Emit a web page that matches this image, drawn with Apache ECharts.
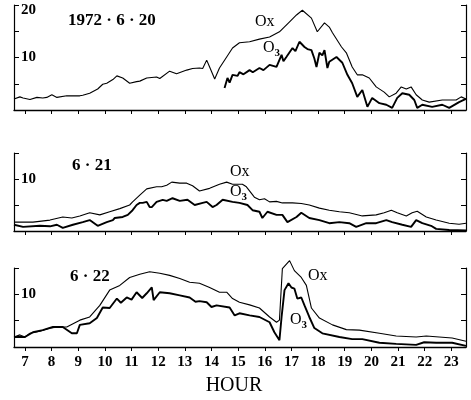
<!DOCTYPE html>
<html>
<head>
<meta charset="utf-8">
<script src="https://cdn.jsdelivr.net/npm/echarts@6/dist/echarts.min.js"></script>
<style>html,body{margin:0;padding:0;background:#fff}#c{width:471px;height:400px}</style>
</head>
<body>
<div id="c"></div>
<script>
// ---- data (hour, concentration) ----
const HOUR_TICKS = [7,8,9,10,11,12,13,14,15,16,17,18,19,20,21,22,23];
const Y_LABELS = [10, 20];
const PANEL_TITLES = ['1972 · 6 · 20', '6 · 21', '6 · 22'];

const ox1 = [[6.59,2.1],[6.81,2.5],[6.93,2.3],[7.19,2.0],[7.45,2.4],[7.67,2.3],[7.82,2.4],[8.01,2.9],[8.20,2.4],[8.57,2.7],[9.06,2.7],[9.17,2.8],[9.43,3.2],[9.73,4.0],[9.92,4.9],[10.07,5.1],[10.30,5.8],[10.45,6.5],[10.67,6.1],[10.93,5.1],[11.19,5.4],[11.31,5.5],[11.57,6.1],[11.94,6.3],[12.06,6.0],[12.43,7.4],[12.69,6.9],[13.07,7.6],[13.29,7.9],[13.55,8.0],[13.67,7.9],[13.82,9.5],[13.93,8.2],[14.12,5.9],[14.30,8.0],[14.57,10.1],[14.79,11.8],[15.05,12.8],[15.43,13.0],[15.80,13.5],[16.18,13.9],[16.55,14.9],[16.93,16.8],[17.19,18.1],[17.41,19.0],[17.75,17.5],[17.97,14.9],[18.24,16.6],[18.42,15.8],[18.54,14.7],[18.88,12.0],[19.06,10.9],[19.28,8.2],[19.47,6.7],[19.66,6.7],[19.92,6.1],[20.18,4.4],[20.48,3.4],[20.67,2.5],[20.93,3.2],[21.12,4.4],[21.31,4.0],[21.49,4.4],[21.68,2.9],[21.91,1.9],[22.17,1.5],[22.66,1.9],[23.18,1.9],[23.37,2.5],[23.55,2.1]];
const o31 = [[14.49,4.2],[14.60,6.1],[14.68,5.2],[14.79,6.7],[14.98,6.5],[15.05,7.2],[15.20,6.8],[15.43,7.6],[15.55,7.2],[15.80,8.0],[15.95,7.6],[16.18,8.6],[16.44,8.2],[16.63,10.5],[16.70,9.3],[16.81,10.1],[17.04,11.8],[17.15,11.2],[17.30,13.0],[17.49,12.0],[17.60,11.6],[17.75,11.4],[17.86,9.8],[17.94,8.2],[18.05,10.9],[18.16,10.4],[18.24,11.4],[18.35,8.0],[18.42,9.2],[18.69,10.1],[18.91,9.0],[19.10,6.7],[19.28,5.1],[19.47,2.5],[19.66,3.8],[19.85,0.6],[20.03,2.3],[20.30,1.3],[20.56,1.0],[20.78,0.4],[20.97,2.3],[21.16,3.2],[21.42,2.9],[21.61,1.9],[21.72,0.4],[21.91,1.0],[22.28,0.6],[22.66,1.0],[22.92,0.4],[23.29,1.5],[23.55,2.1]];

const ox2 = [[6.59,1.7],[6.93,1.7],[7.30,1.7],[7.94,2.1],[8.42,2.7],[8.76,2.5],[9.06,2.9],[9.43,3.5],[9.81,3.1],[10.18,3.7],[10.56,4.3],[10.93,5.0],[11.04,5.6],[11.31,6.9],[11.57,8.1],[11.94,8.5],[12.13,8.5],[12.32,8.8],[12.51,9.4],[12.81,9.2],[13.07,9.2],[13.29,8.7],[13.55,7.7],[13.93,8.2],[14.30,9.0],[14.57,9.4],[14.79,9.0],[15.16,9.0],[15.31,8.5],[15.61,6.5],[15.80,6.0],[15.99,6.2],[16.18,5.6],[16.44,5.7],[16.66,5.4],[17.04,5.4],[17.37,5.3],[17.67,5.0],[18.05,4.4],[18.42,4.0],[18.80,3.7],[19.17,3.5],[19.66,2.9],[20.18,3.1],[20.48,3.5],[20.75,4.0],[20.97,3.5],[21.31,2.9],[21.53,3.5],[21.72,3.8],[22.06,2.7],[22.43,2.1],[22.92,1.5],[23.29,1.3],[23.55,1.5]];
const o32 = [[6.59,1.2],[6.93,0.8],[7.56,1.0],[7.94,0.9],[8.20,1.2],[8.42,0.6],[8.80,1.2],[9.17,1.7],[9.43,2.1],[9.73,1.0],[10.07,1.7],[10.30,2.1],[10.37,2.5],[10.67,2.7],[10.86,3.1],[11.04,4.0],[11.19,5.0],[11.31,5.4],[11.42,5.4],[11.57,5.6],[11.68,4.6],[11.76,4.6],[11.94,5.6],[12.17,6.0],[12.32,5.8],[12.54,6.3],[12.81,5.8],[13.10,6.0],[13.37,5.0],[13.67,5.4],[13.82,5.6],[14.04,4.6],[14.19,5.0],[14.42,6.0],[14.79,5.6],[15.05,5.4],[15.35,5.0],[15.54,4.0],[15.80,3.7],[15.91,2.5],[16.10,3.7],[16.44,3.1],[16.66,3.1],[16.85,1.7],[17.19,2.7],[17.37,3.5],[17.67,2.5],[18.05,2.1],[18.42,1.5],[18.80,1.7],[19.17,1.5],[19.43,0.8],[19.81,1.5],[20.18,1.5],[20.56,2.1],[20.78,1.7],[21.16,1.2],[21.49,0.8],[21.68,2.1],[21.91,1.5],[22.24,1.0],[22.43,0.4],[22.92,0.2],[23.55,0.1]];

const ox3 = [[6.59,1.9],[6.81,2.3],[7.00,1.9],[7.19,2.6],[7.56,3.0],[7.94,3.6],[8.31,3.8],[8.57,3.8],[9.06,5.1],[9.43,5.7],[9.81,7.9],[10.18,10.8],[10.56,11.7],[10.93,13.2],[11.31,13.8],[11.68,14.3],[12.06,14.0],[12.43,13.6],[12.81,13.0],[13.18,12.3],[13.55,12.1],[13.93,11.3],[14.30,10.4],[14.57,10.4],[14.79,9.2],[15.05,8.5],[15.43,8.0],[15.80,7.4],[16.18,5.7],[16.44,4.7],[16.55,5.1],[16.66,14.9],[16.93,16.4],[17.11,14.5],[17.37,13.2],[17.56,11.7],[17.75,7.4],[18.05,5.5],[18.54,4.2],[19.06,3.3],[19.55,3.2],[20.30,2.6],[20.93,2.1],[21.68,1.9],[22.06,2.1],[22.54,1.9],[23.03,1.7],[23.55,1.1]];
const o33 = [[6.59,1.9],[7.00,1.9],[7.30,2.8],[7.67,3.2],[8.05,3.8],[8.42,3.8],[8.76,2.6],[8.95,2.6],[9.06,4.2],[9.43,4.5],[9.70,5.5],[9.92,7.5],[10.18,7.4],[10.45,9.2],[10.60,8.4],[10.82,9.4],[11.00,9.0],[11.19,10.4],[11.40,9.3],[11.57,10.2],[11.76,11.3],[11.83,8.9],[12.06,10.4],[12.43,10.2],[12.81,9.8],[13.18,9.4],[13.40,8.6],[13.55,8.7],[13.82,8.5],[14.00,7.6],[14.19,7.9],[14.68,7.5],[14.87,6.0],[15.05,6.4],[15.43,6.0],[15.80,5.7],[16.18,4.7],[16.36,2.8],[16.55,1.3],[16.63,5.7],[16.74,10.8],[16.89,12.1],[17.00,11.3],[17.11,11.1],[17.22,9.2],[17.37,9.4],[17.49,7.9],[17.67,5.7],[17.86,3.6],[18.16,2.6],[18.80,1.9],[19.28,1.5],[19.66,1.5],[20.30,0.8],[20.93,0.6],[21.68,0.4],[21.98,0.9],[22.43,0.8],[23.03,0.8],[23.55,0.2]];

const X_MIN = 6.59, X_MAX = 23.55;
const Y_MAX = [20, 15, 15];

// ---- chart ----
const FONT = 'Liberation Serif';
const chart = echarts.init(document.getElementById('c'), null, {renderer: 'canvas'});
const grids = [
  {left: 14, right: 5, top: 5, height: 105},
  {left: 14, right: 5, top: 153, height: 78},
  {left: 14, right: 5, top: 268, height: 79}
];
const xAxes = grids.map((g, i) => ({
  type: 'value', gridIndex: i, min: X_MIN, max: X_MAX,
  axisLine: {show: true, onZero: false, lineStyle: {color: '#000', width: 1.3}},
  axisTick: {show: true, inside: false, length: 4, customValues: HOUR_TICKS, lineStyle: {color: '#000', width: 1}},
  axisLabel: i === 2 ? {show: true, customValues: HOUR_TICKS, color: '#000', fontFamily: FONT, fontSize: 15, fontWeight: 'bold', margin: 8} : {show: false},
  splitLine: {show: false}
}));
const yAxes = [];
grids.forEach((g, i) => {
  yAxes.push({
    type: 'value', gridIndex: i, min: 0, max: Y_MAX[i], interval: 5, position: 'left',
    axisLine: {show: true, lineStyle: {color: '#000', width: 1.2}},
    axisTick: {show: true, inside: true, length: 5, lineStyle: {color: '#000'}},
    axisLabel: {show: true, inside: true, margin: 7, color: '#000', fontFamily: FONT, fontSize: 15, fontWeight: 'bold',
      formatter: v => (v === 20 ? '{t|20}' : (Y_LABELS.indexOf(v) >= 0 ? String(v) : '')),
      rich: {t: {fontFamily: FONT, fontSize: 15, fontWeight: 'bold', color: '#000', padding: [10, 0, 0, 0]}}},
    splitLine: {show: false}
  });
  yAxes.push({
    type: 'value', gridIndex: i, min: 0, max: Y_MAX[i], interval: 5, position: 'right',
    axisLine: {show: true, lineStyle: {color: '#000', width: 1.2}},
    axisTick: {show: true, inside: true, length: 5, lineStyle: {color: '#000'}},
    axisLabel: {show: false}, splitLine: {show: false}
  });
});
const mk = (data, xi, yi, w) => ({
  type: 'line', data, xAxisIndex: xi, yAxisIndex: yi, showSymbol: false, symbol: 'none', clip: false,
  lineStyle: {color: '#000', width: w}, silent: true, animation: false
});
const series = [
  mk(ox1, 0, 0, 1.1), mk(o31, 0, 0, 1.9),
  mk(ox2, 1, 2, 1.1), mk(o32, 1, 2, 1.9),
  mk(ox3, 2, 4, 1.1), mk(o33, 2, 4, 1.9)
];
const txt = (x, y, text, size, weight) => ({
  type: 'text', x, y, silent: true,
  style: {text, font: (weight || 'normal') + ' ' + size + 'px "' + FONT + '"', fill: '#000', verticalAlign: 'middle', align: 'left'}
});
const o3 = (x, y) => ({
  type: 'text', x, y, silent: true,
  style: {text: '{o|O}{s|3}', fill: '#000', verticalAlign: 'middle', align: 'left',
    rich: {o: {fontFamily: FONT, fontSize: 16, verticalAlign: 'top', lineHeight: 19},
           s: {fontFamily: FONT, fontSize: 11, fontWeight: 'bold', verticalAlign: 'bottom', lineHeight: 19}}}
});
const graphic = [
  txt(68, 21, PANEL_TITLES[0], 17, 'bold'),
  txt(72, 166, PANEL_TITLES[1], 17, 'bold'),
  txt(70, 277, PANEL_TITLES[2], 17, 'bold'),
  txt(255, 22, 'Ox', 16), o3(263, 49),
  txt(230, 172, 'Ox', 16), o3(230, 193),
  txt(308, 276, 'Ox', 16), o3(290, 321),
  {type: 'text', x: 234, y: 386, silent: true, style: {text: 'HOUR', font: 'normal 20px "' + FONT + '"', fill: '#000', align: 'center', verticalAlign: 'middle'}}
];
chart.setOption({
  backgroundColor: '#fff', animation: false,
  grid: grids, xAxis: xAxes, yAxis: yAxes, series, graphic
});
</script>
</body>
</html>
